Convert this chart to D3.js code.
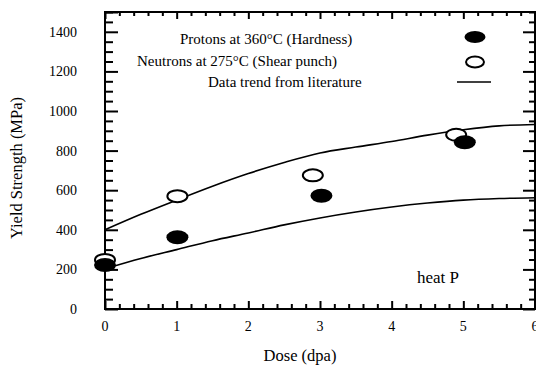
<!DOCTYPE html>
<html><head><meta charset="utf-8">
<script src="https://cdn.jsdelivr.net/npm/d3@7"></script>
<style>
html,body{margin:0;padding:0;background:#fff;}
text{font-family:"Liberation Serif","Times New Roman",serif;fill:#000;}
</style></head>
<body>
<svg id="chart" width="536" height="367"></svg>
<script>
// ---- data ----
const protonDose  = [0, 1.01, 3.02, 5.02];
const protonYS    = [222, 362, 572, 842];
const neutronDose = [0, 1.01, 2.9, 4.9];
const neutronYS   = [248, 570, 675, 880];
const trendDose   = [0, 0.5, 1, 1.5, 2, 2.5, 3, 3.5, 4, 4.5, 5, 5.5, 6];
const trendUpper  = [400, 478, 550, 620, 684, 740, 788, 818, 846, 878, 905, 925, 932];
const trendLower  = [203, 255, 300, 345, 384, 425, 460, 490, 515, 535, 550, 558, 562];
const xTicks = [0, 1, 2, 3, 4, 5, 6];
const yTicks = [0, 200, 400, 600, 800, 1000, 1200, 1400];
const legendLabels = ["Protons at 360°C (Hardness)", "Neutrons at 275°C (Shear punch)", "Data trend from literature"];

const svg = d3.select("#chart");
const L = 105, R = 535, T = 12, B = 309;
const x = d3.scaleLinear().domain([0, 6]).range([L, R]);
const y = d3.scaleLinear().domain([0, 1500]).range([B, T]);

const xMinor = d3.range(0, 6.001, 0.2).filter(v => Math.abs(v - Math.round(v)) > 1e-6);
const yMinor = d3.range(0, 1500.1, 50).filter(v => v % 200 !== 0);

function styleAxis(g){
  g.select(".domain").remove();
  g.selectAll(".tick line").attr("stroke", "#000").attr("stroke-width", 2);
  g.selectAll(".tick text").remove();
}
// left
svg.append("g").attr("transform", `translate(${L},0)`)
  .call(d3.axisLeft(y).tickValues(yTicks.concat([1500])).tickSize(-13)).call(styleAxis);
svg.append("g").attr("transform", `translate(${L},0)`)
  .call(d3.axisLeft(y).tickValues(yMinor).tickSize(-8)).call(styleAxis);
// right
svg.append("g").attr("transform", `translate(${R},0)`)
  .call(d3.axisRight(y).tickValues(yTicks).tickSize(-12)).call(styleAxis);
svg.append("g").attr("transform", `translate(${R},0)`)
  .call(d3.axisRight(y).tickValues(yMinor).tickSize(-6)).call(styleAxis);
// bottom
svg.append("g").attr("transform", `translate(0,${B})`)
  .call(d3.axisBottom(x).tickValues(xTicks).tickSize(-8)).call(styleAxis);
svg.append("g").attr("transform", `translate(0,${B})`)
  .call(d3.axisBottom(x).tickValues(xMinor).tickSize(-5)).call(styleAxis);
// top
svg.append("g").attr("transform", `translate(0,${T})`)
  .call(d3.axisTop(x).tickValues(xTicks).tickSize(-7)).call(styleAxis);
svg.append("g").attr("transform", `translate(0,${T})`)
  .call(d3.axisTop(x).tickValues(xMinor).tickSize(-4)).call(styleAxis);

// frame
svg.append("rect").attr("x", L).attr("y", T).attr("width", R - L).attr("height", B - T)
  .attr("fill", "none").attr("stroke", "#000").attr("stroke-width", 2);

// tick labels
svg.append("g").selectAll("text").data(yTicks).join("text")
  .attr("x", 77).attr("y", d => y(d) + 5).attr("text-anchor", "end")
  .style("font-size", "14px").text(d => d);
svg.append("g").selectAll("text").data(xTicks).join("text")
  .attr("x", d => x(d)).attr("y", 331).attr("text-anchor", "middle")
  .style("font-size", "14px").text(d => d);

// axis titles
svg.append("text").attr("transform", "translate(22,168) rotate(-90)")
  .attr("text-anchor", "middle").style("font-size", "16.5px").text("Yield Strength (MPa)");
svg.append("text").attr("x", 300).attr("y", 361)
  .attr("text-anchor", "middle").style("font-size", "16.5px").text("Dose (dpa)");

// trend lines
const line = d3.line().x(d => x(d[0])).y(d => y(d[1])).curve(d3.curveMonotoneX);
[trendUpper, trendLower].forEach(arr => {
  svg.append("path").datum(trendDose.map((d, i) => [d, arr[i]]))
    .attr("d", line).attr("fill", "none").attr("stroke", "#000").attr("stroke-width", 1.6);
});

// markers
svg.append("g").selectAll("ellipse").data(neutronDose.map((d, i) => [d, neutronYS[i]])).join("ellipse")
  .attr("cx", d => x(d[0])).attr("cy", d => y(d[1])).attr("rx", 10).attr("ry", 6)
  .attr("fill", "#fff").attr("stroke", "#000").attr("stroke-width", 2);
svg.append("g").selectAll("ellipse").data(protonDose.map((d, i) => [d, protonYS[i]])).join("ellipse")
  .attr("cx", d => x(d[0])).attr("cy", d => y(d[1])).attr("rx", 11).attr("ry", 7)
  .attr("fill", "#000");

// legend
const lx = [180, 137, 208], ly = [44, 66, 87];
legendLabels.forEach((t, i) => {
  svg.append("text").attr("x", lx[i]).attr("y", ly[i]).style("font-size", "15px").text(t);
});
svg.append("ellipse").attr("cx", 475).attr("cy", 37).attr("rx", 10.5).attr("ry", 6).attr("fill", "#000");
svg.append("ellipse").attr("cx", 475).attr("cy", 62).attr("rx", 9).attr("ry", 5.5)
  .attr("fill", "#fff").attr("stroke", "#000").attr("stroke-width", 2);
svg.append("line").attr("x1", 457).attr("x2", 491).attr("y1", 82).attr("y2", 82)
  .attr("stroke", "#000").attr("stroke-width", 1.6);

svg.append("text").attr("x", 417).attr("y", 283).style("font-size", "17px").text("heat P");
</script>
</body></html>
